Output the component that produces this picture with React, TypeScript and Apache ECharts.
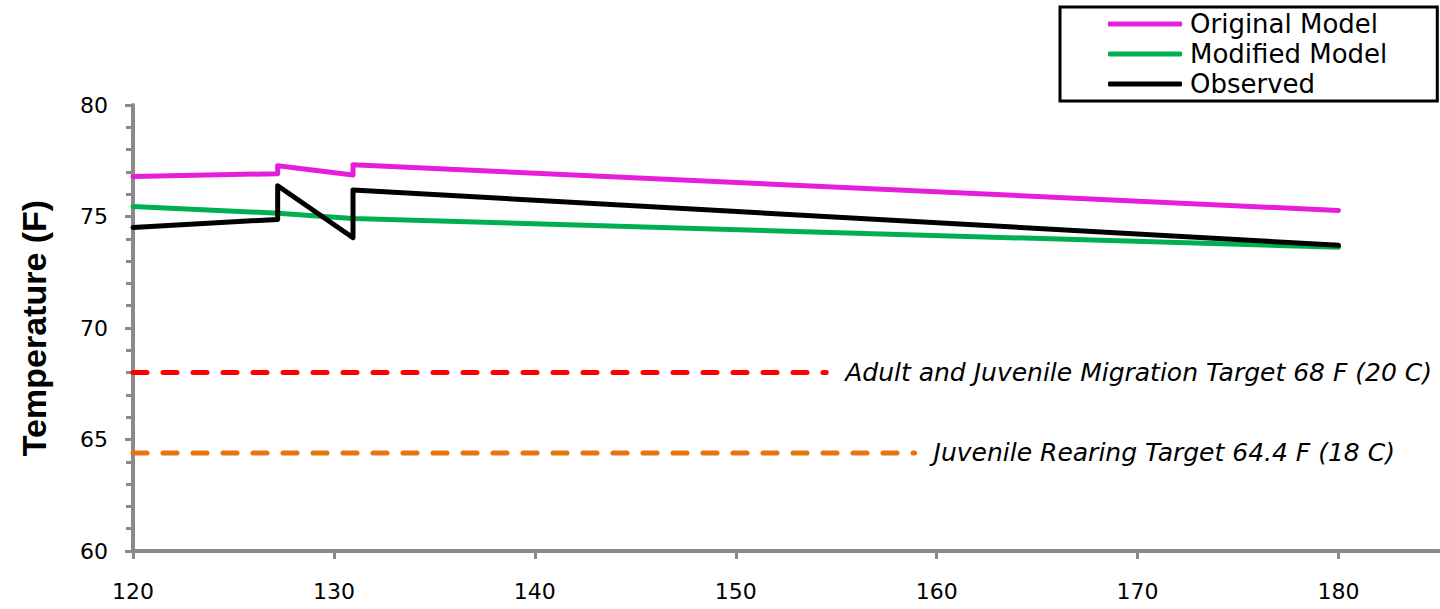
import React, { useEffect, useRef } from "react";
import * as echarts from "echarts";

// ---- data ----
const xTicks = [120, 130, 140, 150, 160, 170, 180];

const originalX = [120, 127.2, 127.2, 130.95, 130.95, 180];
const originalY = [76.79, 76.92, 77.28, 76.86, 77.32, 75.27];

const modifiedX = [120, 127.2, 130.95, 180];
const modifiedY = [75.45, 75.15, 74.91, 73.62];

const observedX = [120, 127.2, 127.2, 130.95, 130.95, 180];
const observedY = [74.51, 74.87, 76.38, 74.05, 76.19, 73.71];

const migrationX = [120, 154.5];
const migrationY = [68, 68];
const rearingX = [120, 158.9];
const rearingY = [64.4, 64.4];

const seriesNames = ["Original Model", "Modified Model", "Observed"];
const migrationLabel = "Adult and Juvenile Migration Target 68 F (20 C)";
const rearingLabel = "Juvenile Rearing Target 64.4 F (18 C)";
const yTitle = "Temperature (F)";

const zip = (xs: number[], ys: number[]) => xs.map((x, i) => [x, ys[i]]);

const AXIS_GRAY = "#8a8a8a";
const FONT = "DejaVu Sans";

export default function App() {
  const ref = useRef<HTMLDivElement>(null);
  useEffect(() => {
    if (!ref.current) return;
    const chart = echarts.init(ref.current, undefined, { renderer: "svg" });
    const lineSeries = (name: string, data: number[][], color: string) => ({
      name,
      type: "line",
      data,
      symbol: "none",
      lineStyle: { color, width: 5, join: "round", cap: "round" },
      itemStyle: { color },
      z: 3,
    });
    const targetSeries = (name: string, data: number[][], color: string, label: string) => ({
      name,
      type: "line",
      data,
      symbol: "none",
      lineStyle: { color, width: 5, type: [14, 16], cap: "round" },
      itemStyle: { color },
      endLabel: {
        show: true,
        formatter: () => label,
        distance: 19,
        color: "#000",
        fontFamily: FONT,
        fontStyle: "italic",
        fontSize: 25,
      },
      z: 2,
    });
    chart.setOption({
      animation: false,
      backgroundColor: "#fff",
      grid: { left: 133, right: 1, top: 105, bottom: 58, outerBoundsMode: "none" },
      legend: {
        data: seriesNames,
        orient: "vertical",
        left: 1060,
        top: 7,
        padding: [2, 50, 2, 48],
        itemGap: 0,
        itemWidth: 74,
        itemHeight: 5,
        icon: "roundRect",
        borderColor: "#000",
        borderWidth: 3,
        backgroundColor: "#fff",
        textStyle: { fontFamily: FONT, fontSize: 26, color: "#000", lineHeight: 30, padding: [0, 0, 0, 3] },
      },
      xAxis: {
        type: "value",
        min: 120,
        max: 185,
        interval: 10,
        splitLine: { show: false },
        axisLine: { onZero: false, lineStyle: { color: AXIS_GRAY, width: 4 } },
        axisTick: { show: true, length: 8, customValues: xTicks, lineStyle: { color: AXIS_GRAY, width: 3 } },
        axisLabel: {
          customValues: xTicks,
          margin: 29,
          color: "#000",
          fontFamily: FONT,
          fontSize: 22,
        },
      },
      yAxis: {
        type: "value",
        min: 60,
        max: 80,
        interval: 5,
        splitLine: { show: false },
        axisLine: { show: true, lineStyle: { color: AXIS_GRAY, width: 4 } },
        axisTick: { show: true, length: 8, lineStyle: { color: AXIS_GRAY, width: 3 } },
        minorTick: { show: true, splitNumber: 5, length: 7, lineStyle: { color: AXIS_GRAY, width: 3 } },
        axisLabel: { margin: 25, color: "#000", fontFamily: FONT, fontSize: 22 },
      },
      graphic: [
        {
          type: "text",
          x: 34,
          y: 328,
          rotation: Math.PI / 2,
          style: {
            text: yTitle,
            fontFamily: "Liberation Sans",
            fontWeight: "bold",
            fontSize: 34,
            fill: "#000",
            align: "center",
            verticalAlign: "middle",
          },
        },
      ],
      series: [
        lineSeries(seriesNames[0], zip(originalX, originalY), "#e61ed9"),
        lineSeries(seriesNames[1], zip(modifiedX, modifiedY), "#00b050"),
        lineSeries(seriesNames[2], zip(observedX, observedY), "#000000"),
        targetSeries("Migration Target", zip(migrationX, migrationY), "#ff0000", migrationLabel),
        targetSeries("Rearing Target", zip(rearingX, rearingY), "#e8740f", rearingLabel),
      ],
    });
    return () => chart.dispose();
  }, []);
  return (
    <div
      ref={ref}
      style={{ position: "absolute", left: 0, top: 0, width: 1440, height: 609 }}
    />
  );
}
